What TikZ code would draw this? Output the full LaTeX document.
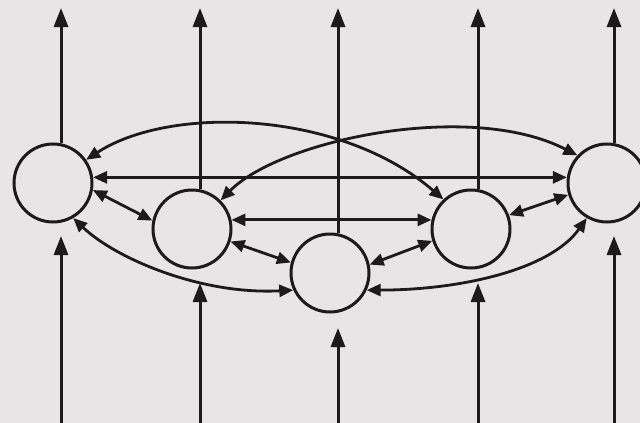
\documentclass[tikz,border=0pt]{standalone}
\usetikzlibrary{arrows.meta}
\definecolor{bg}{RGB}{231,229,229}
\definecolor{ink}{RGB}{28,26,26}
\begin{document}
\begin{tikzpicture}[x=1pt,y=-1pt,
  neuron/.style={circle,draw=ink,line width=3pt,minimum size=78pt,inner sep=0pt},
  link/.style={draw=ink,line width=2.8pt,{Triangle[length=14pt,width=12pt]}-{Triangle[length=14pt,width=12pt]}},
  io/.style={draw=ink,line width=3pt,-{Triangle[length=19pt,width=14pt]}}]
\fill[bg] (0,0) rectangle (640,423);
\useasboundingbox (0,0) rectangle (640,423);

% neurons
\node[neuron] (A) at (53,183) {};
\node[neuron] (B) at (192,229) {};
\node[neuron] (C) at (330,273) {};
\node[neuron] (D) at (471,229) {};
\node[neuron] (E) at (607,183) {};

% output ends
\coordinate (oA) at (61,8);
\coordinate (oB) at (200,8);
\coordinate (oC) at (338,8);
\coordinate (oD) at (478,8);
\coordinate (oE) at (614,8);
% input ends
\coordinate (iA) at (61,423);
\coordinate (iB) at (200,423);
\coordinate (iC) at (338,423);
\coordinate (iD) at (478,423);
\coordinate (iE) at (614,423);
\coordinate (tA) at (61,236);
\coordinate (tB) at (200,283);
\coordinate (tC) at (338,328);
\coordinate (tD) at (478,283);
\coordinate (tE) at (614,236);

% outputs
\draw[io] (oA |- A.north) -- (oA);
\draw[io] (oB |- B.north) -- (oB);
\draw[io] (oC |- C.north) -- (oC);
\draw[io] (oD |- D.north) -- (oD);
\draw[io] (oE |- E.north) -- (oE);
% inputs
\draw[io] (iA) -- (tA);
\draw[io] (iB) -- (tB);
\draw[io] (iC) -- (tC);
\draw[io] (iD) -- (tD);
\draw[io] (iE) -- (tE);

% interconnections
\draw[link] (A.8) -- (E.172);
\draw[link] (B.13) -- (D.167);
\draw[link] (A.-10) -- (B.168);
\draw[link] (B.-18) -- (C.165);
\draw[link] (C.12) -- (D.197);
\draw[link] (D.20) -- (E.197);
\draw[link] (A.35) .. controls (170,105) and (340,110) .. (D.133);
\draw[link] (B.45) .. controls (280,140) and (470,100) .. (E.137);
\draw[link] (A.-60) .. controls (115,258) and (200,295) .. (C.205);
\draw[link] (C.-25) .. controls (460,290) and (550,270) .. (E.240);
\end{tikzpicture}
\end{document}
